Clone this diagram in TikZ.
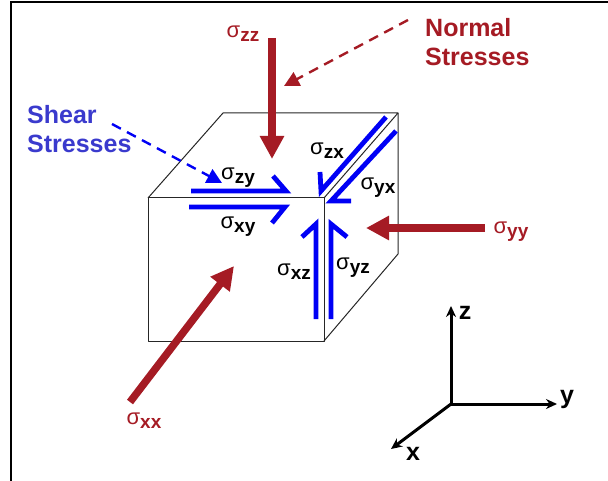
\documentclass[tikz,border=0pt]{standalone}
\usepackage{fontspec}
\setmainfont{Liberation Sans}
\usetikzlibrary{arrows.meta,positioning,calc}
\definecolor{nred}{RGB}{165,27,36}
\definecolor{sblue}{RGB}{0,0,245}
\definecolor{slabel}{RGB}{58,58,205}
\newcommand{\stress}[1]{σ\raisebox{-0.32ex}{\fontsize{19}{19}\bfseries #1}}
\tikzset{
  edge/.style={black!85, line width=1pt, line join=round},
  normarr/.style={-{Triangle[length=23pt,width=23pt]}, nred, line width=7.5pt},
  sheararr/.style={sblue, line width=4.8pt, line join=miter},
  ndash/.style={-{Triangle[length=15pt,width=15pt]}, nred, line width=2.4pt, dash pattern=on 10pt off 7pt},
  sdash/.style={-{Triangle[length=15pt,width=15pt]}, sblue, line width=2.4pt, dash pattern=on 10pt off 7pt},
  axarr/.style={-{Stealth[length=11pt,width=10pt]}, black, line width=3pt},
  nlab/.style={font=\fontsize{22}{22}\selectfont, text=nred, inner sep=0pt},
  slab/.style={font=\fontsize{22}{22}\selectfont, text=black, inner sep=0pt},
  ttl/.style={font=\fontsize{25}{29}\selectfont\bfseries, align=left, inner sep=0pt},
  axlab/.style={font=\fontsize{25}{25}\selectfont\bfseries, inner sep=0pt},
}
\begin{document}
\begin{tikzpicture}[x=1pt,y=-1pt]
  \useasboundingbox (0,0) rectangle (608,481);
  \draw[black, line width=1.6pt] (11,481) -- (11,2) -- (608,2);
  % cube
  \coordinate (fbl) at (148,341); \coordinate (fbr) at (324,341);
  \coordinate (ftl) at (148,198); \coordinate (ftr) at (324,198);
  \coordinate (btl) at (223,113); \coordinate (btr) at (398,113);
  \coordinate (bbr) at (398,254);
  \draw[edge] (ftl) -- (ftr) -- (fbr) -- (fbl) -- cycle;
  \draw[edge] (ftl) -- (btl) -- (btr) -- (ftr);
  \draw[edge] (btr) -- (bbr) -- (fbr);
  % normal stresses
  \coordinate (zzt) at (272,38);  \coordinate (zzh) at (272,159);
  \coordinate (yyt) at (485,228); \coordinate (yyh) at (366,228);
  \coordinate (xxt) at (130,402); \coordinate (xxh) at (234,266);
  \draw[normarr] (zzt) -- (zzh);
  \draw[normarr] (yyt) -- (yyh);
  \draw[normarr] (xxt) -- (xxh);
  % shear stresses
  \coordinate (zya) at (191,191); \coordinate (zyb) at (286,191); \coordinate (zyc) at (273,176);
  \coordinate (xya) at (189,207); \coordinate (xyb) at (285,207); \coordinate (xyc) at (272,223);
  \coordinate (xza) at (316,319); \coordinate (xzb) at (316,224); \coordinate (xzc) at (302,237);
  \coordinate (yza) at (331,319); \coordinate (yzb) at (331,224); \coordinate (yzc) at (347,237);
  \coordinate (zxa) at (386,117); \coordinate (zxb) at (321,191); \coordinate (zxc) at (320,172);
  \coordinate (yxa) at (396,131); \coordinate (yxb) at (331,201); \coordinate (yxc) at (351,201);
  \foreach \s in {zy,xy,xz,yz,zx,yx}
    \draw[sheararr] (\s a) -- (\s b) -- (\s c);
  % callouts
  \coordinate (nda) at (408,20);  \coordinate (ndb) at (284,86);
  \coordinate (sda) at (112,124); \coordinate (sdb) at (222,183);
  \draw[ndash] (nda) -- (ndb);
  \draw[sdash] (sda) -- (sdb);
  \node[ttl, text=nred, anchor=north west] (normal) at (425,18) {Normal\\Stresses};
  \node[ttl, text=slabel, anchor=north west] (shear) at (27,105) {Shear\\Stresses};
  % labels
  \node[nlab] (szz) at (243,34) {\stress{zz}};
  \node[nlab] (syy) at (511,232) {\stress{yy}};
  \node[nlab] (sxx) at (144,421) {\stress{xx}};
  \node[slab] (szy) at (238,178) {\stress{zy}};
  \node[slab] (sxy) at (238,227) {\stress{xy}};
  \node[slab] (sxz) at (294,272) {\stress{xz}};
  \node[slab] (syz) at (353,268) {\stress{yz}};
  \node[slab] (szx) at (327,151) {\stress{zx}};
  \node[slab] (syx) at (378,188) {\stress{yx}};
  % axes
  \coordinate (org) at (451,404);
  \coordinate (zax) at (451,306); \coordinate (yax) at (557,404); \coordinate (xax) at (391,449);
  \draw[axarr] (org) -- (zax);
  \draw[axarr] (org) -- (yax);
  \draw[axarr] (org) -- (xax);
  \node[axlab] (zlab) at (465,313) {z};
  \node[axlab] (ylab) at (567,399) {y};
  \node[axlab] (xlab) at (413,454) {x};
\end{tikzpicture}
\end{document}
